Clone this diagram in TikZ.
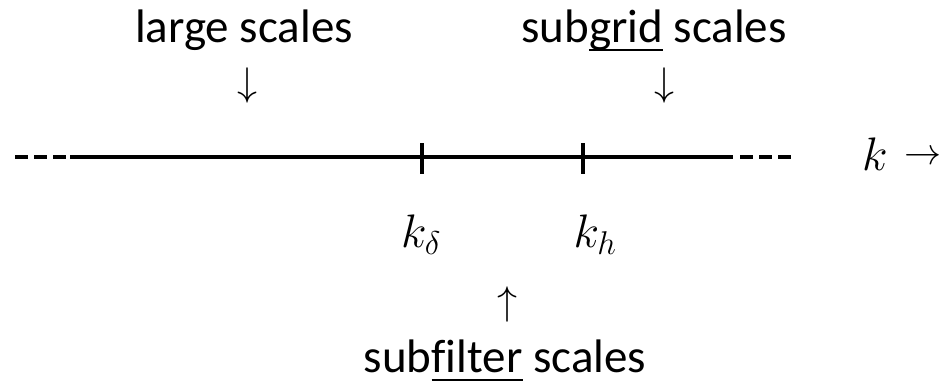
\RequirePackage{fix-cm}
\documentclass[tikz,border=0pt]{standalone}
\usepackage{fontspec}
\setmainfont{Carlito}[Ligatures=NoCommon]
\newcommand\ulx[1]{\setbox0\hbox{#1}\rlap{\rule[-9pt]{\wd0}{2.2pt}}#1}
\begin{document}
\begin{tikzpicture}[x=1pt,y=-1pt,
  lbl/.style={inner sep=0pt, anchor=base, font=\fontsize{47}{56}\selectfont},
  arr/.style={inner sep=0pt, font=\fontsize{40}{48}\selectfont},
  axisline/.style={line width=4.5pt},
  dsh/.style={line width=4.5pt, dash pattern=on 13pt off 6pt},
  tickmark/.style={line width=4pt}]
\useasboundingbox (0,0) rectangle (943,384);
% axis
\coordinate (L0) at (15,157);
\coordinate (L1) at (68,157);
\coordinate (A0) at (70,157);
\coordinate (A1) at (733,157);
\coordinate (R1) at (740,157);
\coordinate (R0) at (793,157);
\draw[dsh] (L0) -- (L1);
\draw[axisline] (A0) -- (A1);
\draw[dsh] (R1) -- (R0);
% ticks
\coordinate (t1a) at (422,143); \coordinate (t1b) at (422,174);
\coordinate (t2a) at (583,143); \coordinate (t2b) at (583,174);
\draw[tickmark] (t1a) -- (t1b);
\draw[tickmark] (t2a) -- (t2b);
% labels
\node[lbl] (large) at (244,42) {large scales};
\node[lbl] (subgrid) at (654,42) {sub\ulx{grid} scales};
\node[arr] (d1) at (247,85) {$\downarrow$};
\node[arr] (d2) at (664,85) {$\downarrow$};
\node[lbl] (kd) at (421,247) {$k_\delta$};
\node[lbl] (kh) at (595,247) {$k_h$};
\node[arr] (u1) at (507,304) {$\uparrow$};
\node[lbl] (subfilter) at (505,372) {sub\ulx{filter} scales};
\node[lbl, anchor=base west] (k) at (862,170) {$k$};
\node[inner sep=0pt, font=\fontsize{37}{44}\selectfont] (ra) at (923,158) {$\rightarrow$};
\end{tikzpicture}
\end{document}
